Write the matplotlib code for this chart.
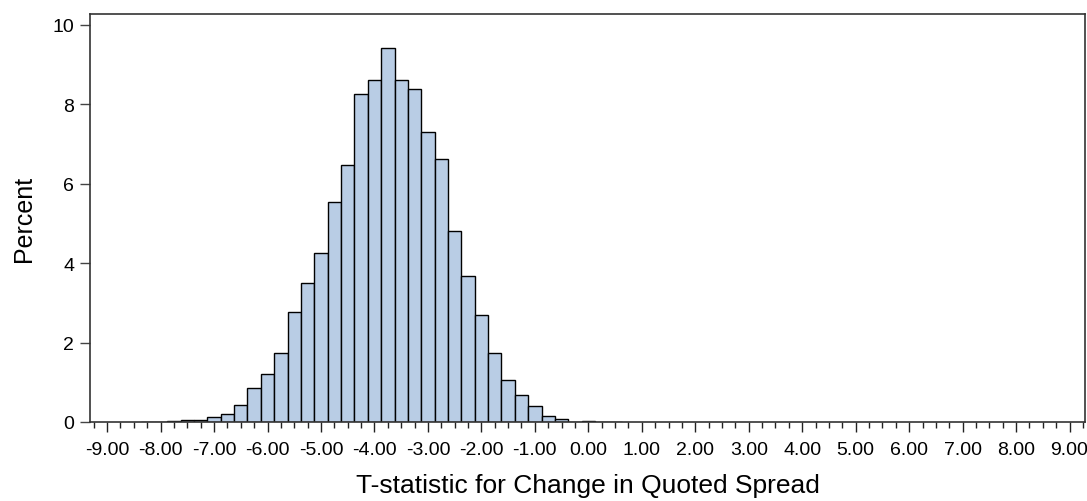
import numpy as np
import matplotlib
matplotlib.use("Agg")
import matplotlib.pyplot as plt
from matplotlib.ticker import MultipleLocator, FormatStrFormatter

# bin centres (width 0.25) and percent in each bin
bin_centers = [-8.25, -8.0, -7.75, -7.5, -7.25, -7.0, -6.75, -6.5, -6.25, -6.0,
               -5.75, -5.5, -5.25, -5.0, -4.75, -4.5, -4.25, -4.0, -3.75, -3.5,
               -3.25, -3.0, -2.75, -2.5, -2.25, -2.0, -1.75, -1.5, -1.25, -1.0,
               -0.75, -0.5, -0.25, 0.0, 0.25, 0.5]
percent = [0.01, 0.01, 0.025, 0.05, 0.04, 0.13, 0.19, 0.42, 0.85, 1.20,
           1.74, 2.78, 3.51, 4.26, 5.54, 6.47, 8.26, 8.62, 9.42, 8.62,
           8.39, 7.30, 6.63, 4.81, 3.68, 2.70, 1.74, 1.05, 0.69, 0.40,
           0.14, 0.08, 0.005, 0.02, 0.0, 0.01]
bin_width = 0.25

xlabel = "T-statistic for Change in Quoted Spread"
ylabel = "Percent"

plt.rcParams['font.family'] = ['Liberation Sans', 'DejaVu Sans']

fig = plt.figure(figsize=(10.87, 5.02), dpi=100)
ax = fig.add_axes([0.0828, 0.1574, 0.9154, 0.8127])

ax.bar(bin_centers, percent, width=bin_width, color='#b9cde5',
       edgecolor='black', linewidth=1.0)

ax.set_xlim(-9.32, 9.29)
ax.set_ylim(0, 10.27)

ax.xaxis.set_major_locator(MultipleLocator(1.0))
ax.xaxis.set_minor_locator(MultipleLocator(0.25))
ax.xaxis.set_major_formatter(FormatStrFormatter('%.2f'))
ax.yaxis.set_major_locator(MultipleLocator(2))

ax.tick_params(axis='x', which='major', length=7.5, width=1.0, color='#222222',
               labelsize=14, pad=6)
ax.tick_params(axis='x', which='minor', length=4, width=1.0, color='#222222')
ax.tick_params(axis='y', which='major', length=7.5, width=1.0, color='#444444',
               labelsize=14, pad=4)

for s in ax.spines.values():
    s.set_color('#333333')
    s.set_linewidth(1.2)

ax.set_xlabel(xlabel, fontsize=19, labelpad=11)
ax.set_ylabel(ylabel, fontsize=18, labelpad=12)

fig.savefig("out.png", dpi=100)
